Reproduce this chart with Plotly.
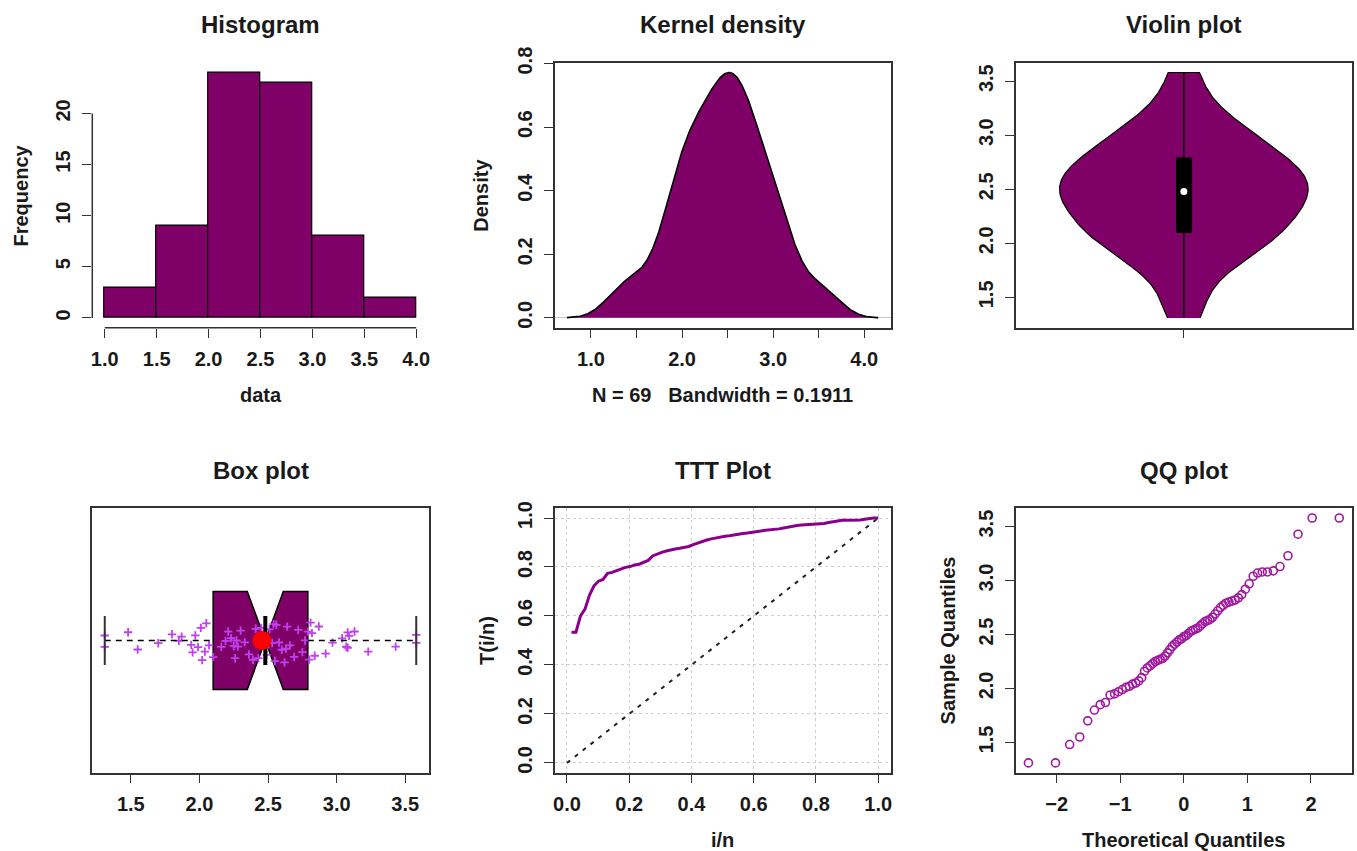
import numpy as np
import plotly.graph_objects as go
from statistics import NormalDist

# ---------------- data ----------------
data = [1.31, 1.31, 1.48, 1.55, 1.70, 1.80, 1.85, 1.87, 1.94, 1.95, 1.97, 1.99,
        2.01, 2.02, 2.04, 2.05, 2.07, 2.10, 2.16, 2.19, 2.21, 2.23, 2.25, 2.26,
        2.27, 2.28, 2.30, 2.33, 2.36, 2.39, 2.41, 2.43, 2.45, 2.46, 2.48, 2.49,
        2.51, 2.53, 2.54, 2.55, 2.56, 2.58, 2.60, 2.62, 2.63, 2.64, 2.66, 2.69,
        2.72, 2.75, 2.77, 2.79, 2.80, 2.81, 2.82, 2.84, 2.87, 2.92, 2.97,
        3.04, 3.07, 3.08, 3.08, 3.09, 3.13, 3.23, 3.43, 3.58, 3.58]

hist_breaks = [1.0, 1.5, 2.0, 2.5, 3.0, 3.5, 4.0]
hist_yticks = [0, 5, 10, 15, 20]
dens_xticks = [1.0, 1.5, 2.0, 2.5, 3.0, 3.5, 4.0]
dens_xlabels = ["1.0", "", "2.0", "", "3.0", "", "4.0"]
dens_yticks = [0.0, 0.2, 0.4, 0.6, 0.8]
value_ticks = [1.5, 2.0, 2.5, 3.0, 3.5]
ttt_ticks = [0.0, 0.2, 0.4, 0.6, 0.8, 1.0]
qq_xticks = [-2, -1, 0, 1, 2]
kde_bandwidth = 0.1911
violin_bandwidth = 0.22

titles = ["Histogram", "Kernel density", "Violin plot", "Box plot", "TTT Plot", "QQ plot"]

# ---------------- styles ----------------
W, H = 1357, 851
PURPLE = "#7f0066"
JIT = "#c040f0"
QQC = "#a0189f"
TTTC = "#8b008b"
AXC = "#333333"
TXT = "#1a1a1a"
FONT = "Liberation Sans"
BOX_WIDTH = 0.4
NOTCH_FRAC = 0.5
STAPLE_FRAC = 0.5
VIOLIN_HALF = 0.4
VIOLIN_BOX_HALF = 0.025

# ---------------- derived statistics ----------------
x = np.sort(np.array(data, dtype=float))
n = len(x)
xmin, xmax = x.min(), x.max()
mean = x.mean()


def fivenum(v):
    v = np.sort(v)
    m = len(v)
    n4 = np.floor((m + 3) / 2) / 2
    d = np.array([1, n4, (m + 1) / 2, m + 1 - n4, m]) - 1
    return 0.5 * (v[np.floor(d).astype(int)] + v[np.ceil(d).astype(int)])


f5 = fivenum(x)
q1, med, q3 = f5[1], f5[2], f5[3]
notchspan = 1.58 * (q3 - q1) / np.sqrt(n)


def gauss_kde(grid, sample, bw):
    z = (grid[:, None] - sample[None, :]) / bw
    return np.exp(-0.5 * z ** 2).sum(axis=1) / (len(sample) * bw * np.sqrt(2 * np.pi))


kde_x = np.linspace(xmin - 3 * kde_bandwidth, xmax + 3 * kde_bandwidth, 512)
kde_y = gauss_kde(kde_x, x, kde_bandwidth)

vio_y = np.linspace(xmin, xmax, 256)
vio_d = gauss_kde(vio_y, x, violin_bandwidth)
vio_hw = VIOLIN_HALF * vio_d / vio_d.max()

csum = np.cumsum(x)
ttt_x = np.arange(1, n + 1) / n
ttt_y = (csum + (n - np.arange(1, n + 1)) * x) / csum[-1]

nd = NormalDist()
theo = np.array([nd.inv_cdf((i - 0.5) / n) for i in range(1, n + 1)])

counts, _ = np.histogram(x, bins=hist_breaks)


def rrange(lo, hi):
    p = 0.04 * (hi - lo)
    return [lo - p, hi + p]


# ---------------- layout geometry (pixels) ----------------
cols = [(92.3, 428.7), (554.5, 890.7), (1016.0, 1351.7)]
rows = [(62.7, 327.7), (508.2, 772.7)]


def px_x(p):
    return p / W


def px_y(p):
    return 1 - p / H


fig = go.Figure()

# 1 Histogram
fig.add_trace(go.Histogram(x=x, xbins=dict(start=hist_breaks[0], end=hist_breaks[-1],
                                           size=hist_breaks[1] - hist_breaks[0]),
                           marker=dict(color=PURPLE, line=dict(color="black", width=1.2)),
                           xaxis="x", yaxis="y"))

# 2 Kernel density
fig.add_trace(go.Scatter(x=kde_x, y=kde_y, mode="lines", fill="toself", fillcolor=PURPLE,
                         line=dict(color="black", width=1.6), xaxis="x2", yaxis="y2"))

# 3 Violin
fig.add_trace(go.Scatter(x=np.concatenate([1 - vio_hw, (1 + vio_hw)[::-1]]),
                         y=np.concatenate([vio_y, vio_y[::-1]]),
                         mode="lines", fill="toself", fillcolor=PURPLE,
                         line=dict(color="black", width=1.2), xaxis="x3", yaxis="y3"))
fig.add_trace(go.Scatter(x=[1, 1], y=[xmin, xmax], mode="lines",
                         line=dict(color="black", width=1.5), xaxis="x3", yaxis="y3"))
fig.add_trace(go.Scatter(x=[1 - VIOLIN_BOX_HALF, 1 + VIOLIN_BOX_HALF, 1 + VIOLIN_BOX_HALF, 1 - VIOLIN_BOX_HALF],
                         y=[q1, q1, q3, q3], mode="lines", fill="toself", fillcolor="black",
                         line=dict(color="black", width=1), xaxis="x3", yaxis="y3"))
fig.add_trace(go.Scatter(x=[1], y=[med], mode="markers",
                         marker=dict(color="white", size=7), xaxis="x3", yaxis="y3"))

# 4 Box plot
fig.add_trace(go.Box(q1=[q1], median=[med], q3=[q3], lowerfence=[q1], upperfence=[q3],
                     y=[1], orientation="h", notched=True, notchspan=[notchspan],
                     notchwidth=NOTCH_FRAC, width=BOX_WIDTH, whiskerwidth=0,
                     fillcolor=PURPLE, line=dict(color="black", width=1.5),
                     boxpoints=False, xaxis="x4", yaxis="y4"))
fig.add_trace(go.Box(x=x, y0=1, orientation="h", boxpoints="all", jitter=0.5, pointpos=0,
                     width=BOX_WIDTH, fillcolor="rgba(0,0,0,0)",
                     line=dict(color="rgba(0,0,0,0)", width=0),
                     marker=dict(symbol="cross-thin", size=6, color=JIT,
                                 line=dict(color=JIT, width=1.8)),
                     xaxis="x4", yaxis="y4"))
sh = BOX_WIDTH / 2 * STAPLE_FRAC
for seg in ([xmin, q1], [q3, xmax]):
    fig.add_trace(go.Scatter(x=seg, y=[1, 1], mode="lines",
                             line=dict(color="black", width=1.4, dash="6px,5px"),
                             xaxis="x4", yaxis="y4"))
for v in (xmin, xmax):
    fig.add_trace(go.Scatter(x=[v, v], y=[1 - sh, 1 + sh], mode="lines",
                             line=dict(color="#333333", width=2), xaxis="x4", yaxis="y4"))
nh = BOX_WIDTH / 2 * NOTCH_FRAC
fig.add_trace(go.Scatter(x=[med, med], y=[1 - nh, 1 + nh], mode="lines",
                         line=dict(color="black", width=4), xaxis="x4", yaxis="y4"))
fig.add_trace(go.Scatter(x=[mean], y=[1], mode="markers",
                         marker=dict(color="red", size=19), xaxis="x4", yaxis="y4"))

# 5 TTT
fig.add_trace(go.Scatter(x=[ttt_ticks[0], ttt_ticks[-1]], y=[ttt_ticks[0], ttt_ticks[-1]],
                         mode="lines", line=dict(color="#222222", width=2, dash="4px,6px"),
                         xaxis="x5", yaxis="y5"))
fig.add_trace(go.Scatter(x=ttt_x, y=ttt_y, mode="lines",
                         line=dict(color=TTTC, width=3), xaxis="x5", yaxis="y5"))

# 6 QQ
fig.add_trace(go.Scatter(x=theo, y=x, mode="markers",
                         marker=dict(symbol="circle-open", size=8, color=QQC,
                                     line=dict(color=QQC, width=1.6)),
                         xaxis="x6", yaxis="y6"))

# ---------------- axes ----------------
tickfont = dict(family=FONT, size=20, color=TXT, weight="bold")


def ax(**kw):
    base = dict(showgrid=False, zeroline=False, ticks="outside", ticklen=9, tickwidth=1.3,
                tickcolor=AXC, showline=True, linecolor=AXC, linewidth=1.5, mirror=True,
                tickfont=tickfont, fixedrange=True, ticklabelstandoff=4, automargin=False)
    base.update(kw)
    return base


def xdom(c):
    return [px_x(cols[c][0]), px_x(cols[c][1])]


def ydom(r):
    return [px_y(rows[r][1]), px_y(rows[r][0])]


lay = {}
# histogram
lay["xaxis"] = ax(domain=xdom(0), anchor="y", range=rrange(hist_breaks[0], hist_breaks[-1]),
                  tickvals=hist_breaks, tickformat=".1f", showline=False, mirror=False)
lay["yaxis"] = ax(domain=ydom(0), anchor="x", range=rrange(0, counts.max()),
                  tickvals=hist_yticks, tickangle=-90, showline=False, mirror=False)
# density
lay["xaxis2"] = ax(domain=xdom(1), anchor="y2", range=rrange(kde_x[0], kde_x[-1]),
                   tickvals=dens_xticks, ticktext=dens_xlabels)
lay["yaxis2"] = ax(domain=ydom(0), anchor="x2", range=rrange(0, kde_y.max()),
                   tickvals=dens_yticks, tickformat=".1f", tickangle=-90,
                   zeroline=True, zerolinecolor="#c8c8c8", zerolinewidth=1)
# violin
lay["xaxis3"] = ax(domain=xdom(2), anchor="y3", range=rrange(0.5, 1.5),
                   tickvals=[1], ticktext=[""])
lay["yaxis3"] = ax(domain=ydom(0), anchor="x3", range=rrange(xmin, xmax),
                   tickvals=value_ticks, tickformat=".1f", tickangle=-90)
# box plot
lay["xaxis4"] = ax(domain=xdom(0), anchor="y4", range=rrange(xmin, xmax),
                   tickvals=value_ticks, tickformat=".1f")
lay["yaxis4"] = ax(domain=ydom(1), anchor="x4", range=rrange(0.5, 1.5),
                   ticks="", showticklabels=False)
# TTT
lay["xaxis5"] = ax(domain=xdom(1), anchor="y5", range=rrange(ttt_ticks[0], ttt_ticks[-1]),
                   tickvals=ttt_ticks, tickformat=".1f", showgrid=True,
                   gridcolor="#cfcfcf", griddash="dot", gridwidth=1.3)
lay["yaxis5"] = ax(domain=ydom(1), anchor="x5", range=rrange(ttt_ticks[0], ttt_ticks[-1]),
                   tickvals=ttt_ticks, tickformat=".1f", tickangle=-90, showgrid=True,
                   gridcolor="#cfcfcf", griddash="dot", gridwidth=1.3)
# QQ
lay["xaxis6"] = ax(domain=xdom(2), anchor="y6", range=rrange(theo.min(), theo.max()),
                   tickvals=qq_xticks)
lay["yaxis6"] = ax(domain=ydom(1), anchor="x6", range=rrange(xmin, xmax),
                   tickvals=value_ticks, tickformat=".1f", tickangle=-90)

# histogram axis lines spanning first..last tick (R style)
shapes = [
    dict(type="line", xref="x", yref="y domain", x0=hist_breaks[0], x1=hist_breaks[-1],
         y0=0, y1=0, line=dict(color=AXC, width=1.5)),
    dict(type="line", xref="x domain", yref="y", x0=0, x1=0, y0=hist_yticks[0],
         y1=hist_yticks[-1], line=dict(color=AXC, width=1.5)),
]

# ---------------- text ----------------
annotations = []
titlefont = dict(family=FONT, size=24, color=TXT, weight="bold")
labfont = dict(family=FONT, size=20, color=TXT, weight="bold")
for i, t in enumerate(titles):
    r, c = divmod(i, 3)
    annotations.append(dict(text=t, xref="paper", yref="paper", showarrow=False,
                            x=px_x((cols[c][0] + cols[c][1]) / 2), y=px_y(rows[r][0] - 38),
                            xanchor="center", yanchor="middle", font=titlefont))


def xlab(text, c, r):
    annotations.append(dict(text=text, xref="paper", yref="paper", showarrow=False,
                            x=px_x((cols[c][0] + cols[c][1]) / 2), y=px_y(rows[r][1] + 67),
                            xanchor="center", yanchor="middle", font=labfont))


def ylab(text, c, r, off=70):
    annotations.append(dict(text=text, xref="paper", yref="paper", showarrow=False,
                            x=px_x(cols[c][0] - off), y=px_y((rows[r][0] + rows[r][1]) / 2),
                            xanchor="center", yanchor="middle", textangle=-90, font=labfont))


xlab("data", 0, 0)
ylab("Frequency", 0, 0, 71)
xlab(f"N = {n}   Bandwidth = {kde_bandwidth}", 1, 0)
ylab("Density", 1, 0, 73)
xlab("i/n", 1, 1)
ylab("T(i/n)", 1, 1, 67)
xlab("Theoretical Quantiles", 2, 1)
ylab("Sample Quantiles", 2, 1, 68)

fig.update_layout(template="none", width=W, height=H, autosize=False,
                  margin=dict(l=0, r=0, t=0, b=0, pad=0),
                  paper_bgcolor="white", plot_bgcolor="white", showlegend=False,
                  bargap=0, boxmode="overlay", font=dict(family=FONT, color=TXT),
                  shapes=shapes, annotations=annotations, **lay)

fig.write_html("out.html", config={"displayModeBar": False})
